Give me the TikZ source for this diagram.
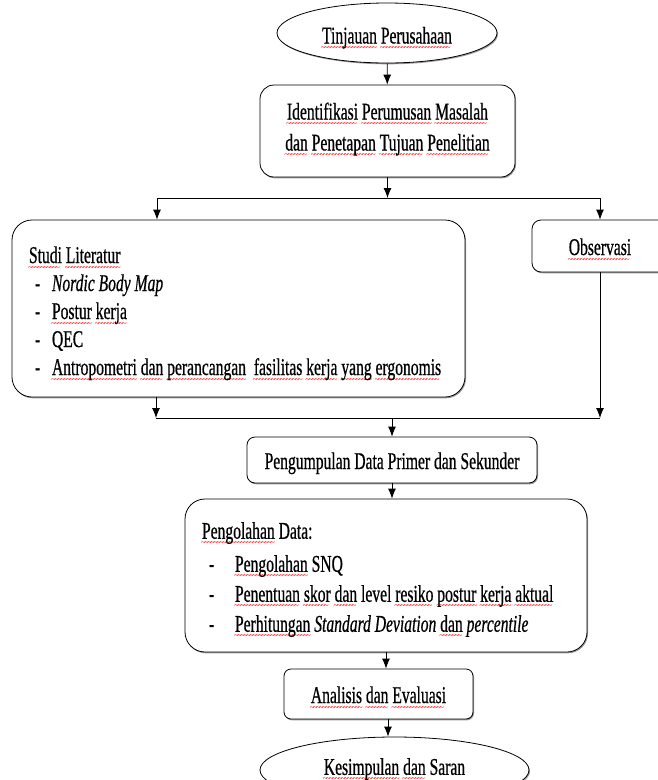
\documentclass[tikz,border=0pt]{standalone}
\usepackage{fontspec}
\setmainfont{Liberation Serif}[FakeStretch=0.65,FakeBold=0.6]
\newfontfamily\wavefont{Liberation Serif}
\usetikzlibrary{arrows.meta,shapes.geometric,shadows}

% red spell-check wave under a word
\newsavebox{\sqbox}
\newcommand{\sq}[1]{\sbox{\sqbox}{#1}\rlap{\color{red}\raisebox{-7pt}{\wavefont\fontsize{9}{9}\selectfont\leaders\hbox to 3pt{\hss\char"007E\hss}\hskip\wd\sqbox}}#1}

\begin{document}
\begin{tikzpicture}[x=1pt,y=-1pt,line width=.8pt,
  every node/.style={font=\fontsize{24}{28}\selectfont},
  shade box/.style={drop shadow={shadow xshift=1pt,shadow yshift=-1.3pt,fill=black!40,opacity=1}},
  box/.style={rectangle,draw,fill=white,inner sep=0pt,shade box},
  term/.style={ellipse,draw,fill=white,inner sep=0pt,shade box},
  oneline/.style={text height=23pt,text depth=5pt},
  arr/.style={-{Latex[length=10pt,width=8pt]}}]

\useasboundingbox (0,0) rectangle (657,780);

% Nodes
\node[term,minimum width=220,minimum height=60,text height=26pt,text depth=5pt] (tinjauan) at (387,33) {\sq{Tinjauan} \sq{Perusahaan}};
\node[box,rounded corners=14pt,minimum width=255,minimum height=92,align=center,text height=46pt,font=\fontsize{24}{31}\selectfont] (identifikasi) at (387.5,131) {\sq{Identifikasi} \sq{Perumusan} \sq{Masalah}\\\sq{dan} \sq{Penetapan} \sq{Tujuan} \sq{Penelitian}};

\node[box,rounded corners=20pt,minimum width=453,minimum height=177,inner xsep=17pt,text width=419pt,text height=28pt,align=flush left] (studi) at (238.5,308.5) {\sq{Studi} \sq{Literatur}\\
\hspace*{6pt}\makebox[17pt][l]{-}\textit{Nordic Body Map}\\
\hspace*{6pt}\makebox[17pt][l]{-}\sq{Postur} \sq{kerja}\\
\hspace*{6pt}\makebox[17pt][l]{-}QEC\\
\hspace*{6pt}\makebox[17pt][l]{-}\sq{Antropometri} \sq{dan} \sq{perancangan}\ \ \sq{fasilitas} \sq{kerja} \sq{yang} \sq{ergonomis}};
\node[box,oneline,rounded corners=9pt,minimum width=136,minimum height=52] (observasi) at (600,246) {\sq{Observasi}};

\node[box,oneline,rounded corners=8pt,minimum width=290,minimum height=46] (pengumpulan) at (392,460) {Pengumpulan Data Primer dan Sekunder};
\node[box,rounded corners=20pt,minimum width=402,minimum height=153,inner xsep=17pt,text width=368pt,text height=26.5pt,align=flush left,font=\fontsize{24}{30}\selectfont] (pengolahan) at (386,575.5) {\sq{Pengolahan} Data:\\[3pt]
\hspace*{7pt}\makebox[26pt][l]{-}\sq{Pengolahan} SNQ\\
\hspace*{7pt}\makebox[26pt][l]{-}\sq{Penentuan} \sq{skor} \sq{dan} level \sq{resiko} \sq{postur} \sq{kerja} \sq{aktual}\\
\hspace*{7pt}\makebox[26pt][l]{-}\sq{Perhitungan} \textit{Standard Deviation} \sq{dan} \textit{percentile}};
\node[box,oneline,rounded corners=7pt,minimum width=189,minimum height=50] (analisis) at (378.5,694) {\sq{Analisis} \sq{dan} \sq{Evaluasi}};
\node[term,minimum width=269,minimum height=66] (kesimpulan) at (394.5,770) {\sq{Kesimpulan} \sq{dan} Saran};

\coordinate (sL) at (157,198);
\coordinate (sR) at (600,198);
\coordinate (jL) at (156,418);
\coordinate (jR) at (600,418);

%arcs
\path (tinjauan) edge[arr] (identifikasi);
\path (identifikasi.south) edge[arr] (identifikasi.south |- sL);
\draw (sL) -- (sR);
\path (sL) edge[arr] (studi.north -| sL);
\path (sR) edge[arr] (observasi.north);

\path (studi.south -| jL) edge[arr] (jL);
\path (observasi.south) edge[arr] (jR);
\draw (jL) -- (jR);
\path (pengumpulan.north |- jL) edge[arr] (pengumpulan.north);

\path (pengumpulan.south) edge[arr] (pengumpulan.south |- pengolahan.north);
\path (pengolahan.south) edge[arr] (pengolahan.south |- analisis.north);
\path ([xshift=9.5pt]analisis.south) edge[arr] ([xshift=9.5pt]analisis.south |- kesimpulan.north);

\end{tikzpicture}
\end{document}
